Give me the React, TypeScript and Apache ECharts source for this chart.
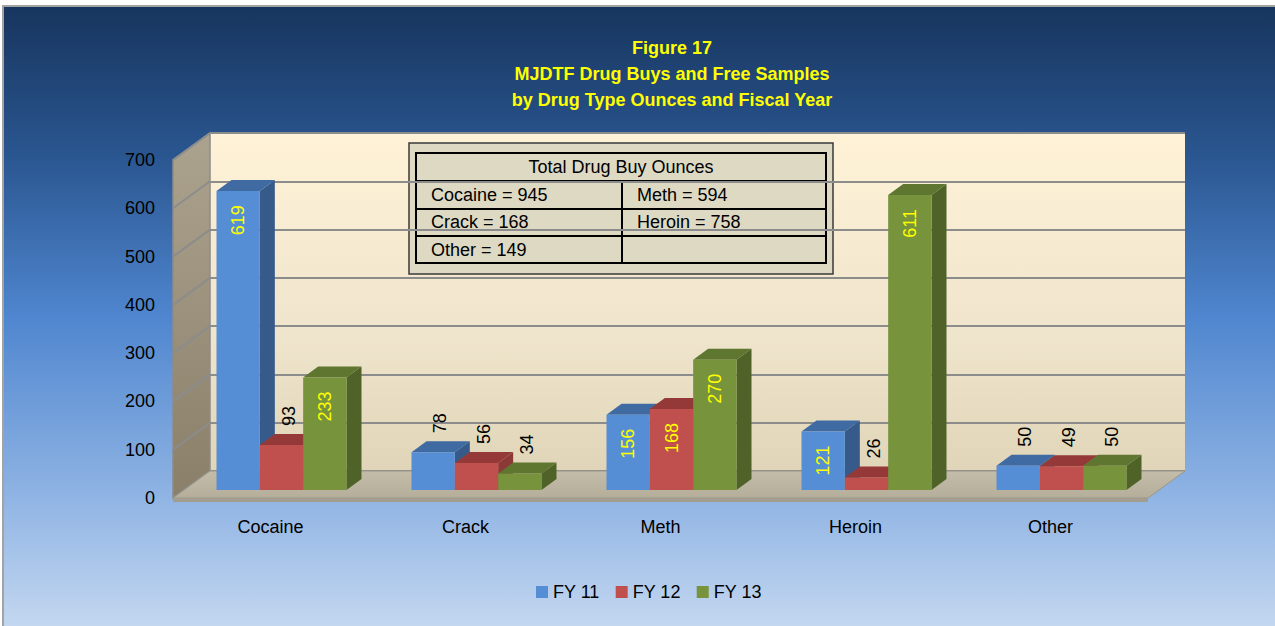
import React, { useEffect, useRef } from "react";
import * as echarts from "echarts";

const categories = ["Cocaine", "Crack", "Meth", "Heroin", "Other"];
const seriesNames = ["FY 11", "FY 12", "FY 13"];
const fy11 = [619, 78, 156, 121, 50];
const fy12 = [93, 56, 168, 26, 49];
const fy13 = [233, 34, 270, 611, 50];
const yTicks = [0, 100, 200, 300, 400, 500, 600, 700];
const titleLines = ["Figure 17", "MJDTF Drug Buys and Free Samples", "by Drug Type Ounces and Fiscal Year"];
const tableTitle = "Total Drug Buy Ounces";
const tableRows = [
  ["Cocaine = 945", "Meth = 594"],
  ["Crack = 168", "Heroin = 758"],
  ["Other = 149", ""],
];

const FONT = '"Liberation Sans", Arial, sans-serif';
const faceColors = [
  { front: "#558ed5", top: "#3f6aa2", side: "#365b8b" },
  { front: "#c0504d", top: "#953938", side: "#8c3836" },
  { front: "#77933c", top: "#5f7630", side: "#4f6228" },
];
const WALL_DX = -37;
const WALL_DY = 27;
const BAR_DX = 15;
const BAR_DY = -11;

export default function App() {
  const ref = useRef<HTMLDivElement>(null);
  useEffect(() => {
    if (!ref.current) return;
    const chart = echarts.init(ref.current, null, { renderer: "svg" });
    const values = [fy11, fy12, fy13];

    const barSeries = seriesNames.map((name, s) => ({
      type: "custom",
      name,
      xAxisIndex: 1,
      yAxisIndex: 1,
      clip: false,
      itemStyle: { color: faceColors[s].front },
      encode: { x: 0, y: 1 },
      data: categories.map((_, i) => [i, values[s][i]]),
      renderItem: (params: any, api: any) => {
        const idx = api.value(0);
        const val = api.value(1);
        const base = api.coord([idx, 0]);
        const top = api.coord([idx, val]);
        const band = api.size([1, 0])[0];
        const bw = band / 1.5 / 3;
        const x0 = base[0] - 1.5 * bw + s * bw;
        const x1 = x0 + bw;
        const yT = top[1];
        const yB = base[1];
        const c = faceColors[s];
        const inside = val >= 100;
        const label = inside
          ? {
              type: "text",
              x: x0 + bw / 2,
              y: yT + 14,
              rotation: Math.PI / 2,
              z2: 10,
              style: {
                text: String(val),
                fill: "#ffff00",
                fontSize: 18,
                fontFamily: FONT,
                align: "right",
                verticalAlign: "middle",
              },
            }
          : {
              type: "text",
              x: x0 + bw / 2 + 7,
              y: yT - 19,
              rotation: Math.PI / 2,
              z2: 10,
              style: {
                text: String(val),
                fill: "#000000",
                fontSize: 18,
                fontFamily: FONT,
                align: "left",
                verticalAlign: "middle",
              },
            };
        return {
          type: "group",
          children: [
            {
              type: "polygon",
              shape: { points: [[x1, yT], [x1 + BAR_DX, yT + BAR_DY], [x1 + BAR_DX, yB + BAR_DY], [x1, yB]] },
              style: { fill: c.side },
            },
            {
              type: "polygon",
              shape: { points: [[x0, yT], [x0 + BAR_DX, yT + BAR_DY], [x1 + BAR_DX, yT + BAR_DY], [x1, yT]] },
              style: { fill: c.top },
            },
            {
              type: "rect",
              shape: { x: x0, y: yT, width: bw, height: yB - yT },
              style: { fill: c.front },
            },
            label,
          ],
        };
      },
    }));

    const wallSeries = {
      type: "custom",
      name: "walls",
      xAxisIndex: 2,
      yAxisIndex: 2,
      clip: false,
      silent: true,
      data: [[0, 0]],
      renderItem: (params: any, api: any) => {
        const bl = api.coord([0, 0]);
        const tl = api.coord([0, 700]);
        const br = api.coord([1, 0]);
        const children: any[] = [];
        children.push({
          type: "polygon",
          shape: { points: [tl, [tl[0] + WALL_DX, tl[1] + WALL_DY], [bl[0] + WALL_DX, bl[1] + WALL_DY], bl] },
          style: {
            fill: new echarts.graphic.LinearGradient(0, 0, 0, 1, [
              { offset: 0, color: "#aca38f" },
              { offset: 1, color: "#8a7f69" },
            ]),
            stroke: "#8c8c8c",
            lineWidth: 1.5,
          },
        });
        yTicks.forEach((t) => {
          const p = api.coord([0, t]);
          children.push({
            type: "line",
            shape: { x1: p[0], y1: p[1], x2: p[0] + WALL_DX, y2: p[1] + WALL_DY },
            style: { stroke: "#8c8c8c", lineWidth: 2 },
          });
        });
        children.push({
          type: "polygon",
          shape: { points: [bl, br, [br[0] + WALL_DX, br[1] + WALL_DY], [bl[0] + WALL_DX, bl[1] + WALL_DY]] },
          style: {
            fill: new echarts.graphic.LinearGradient(0, 0, 0, 1, [
              { offset: 0, color: "#c3bca9" },
              { offset: 1, color: "#b5ae9b" },
            ]),
            stroke: "#9a9688",
            lineWidth: 1,
          },
        });
        children.push({
          type: "rect",
          shape: { x: bl[0] + WALL_DX, y: bl[1] + WALL_DY, width: br[0] - bl[0], height: 4 },
          style: { fill: "#a29d8e" },
        });
        return { type: "group", children };
      },
    };

    const tX = 409, tY = 143;
    const table: any[] = [
      { type: "rect", shape: { x: tX, y: tY, width: 424, height: 131 }, style: { fill: "#ddd9c3", stroke: "#3a3a3a", lineWidth: 1.5 } },
      { type: "rect", shape: { x: 416, y: 153, width: 410, height: 110 }, style: { fill: "#ddd9c3", stroke: "#000", lineWidth: 2 } },
      { type: "line", shape: { x1: 416, y1: 181, x2: 826, y2: 181 }, style: { stroke: "#000", lineWidth: 2 } },
      { type: "line", shape: { x1: 416, y1: 209, x2: 826, y2: 209 }, style: { stroke: "#000", lineWidth: 2 } },
      { type: "line", shape: { x1: 416, y1: 236, x2: 826, y2: 236 }, style: { stroke: "#000", lineWidth: 2 } },
      { type: "line", shape: { x1: 622, y1: 181, x2: 622, y2: 263 }, style: { stroke: "#000", lineWidth: 2 } },
      {
        type: "text",
        x: 621,
        y: 167,
        style: { text: tableTitle, fill: "#000", font: `18px ${FONT}`, textAlign: "center", textVerticalAlign: "middle", align: "center", verticalAlign: "middle" },
      },
    ];
    const rowY = [195, 222, 250];
    tableRows.forEach((row, r) => {
      row.forEach((cell, ci) => {
        if (!cell) return;
        table.push({
          type: "text",
          x: ci === 0 ? 431 : 637,
          y: rowY[r],
          style: { text: cell, fill: "#000", font: `18px ${FONT}`, textAlign: "left", textVerticalAlign: "middle", align: "left", verticalAlign: "middle" },
        });
      });
    });

    const option: any = {
      animation: false,
      backgroundColor: "transparent",
      textStyle: { fontFamily: FONT },
      grid: [
        { left: 173, right: 127, top: 160, bottom: 128 },
        { left: 184, right: 116, top: 152, bottom: 136 },
        {
          left: 210,
          right: 90,
          top: 133,
          bottom: 155,
          show: true,
          borderWidth: 0,
          backgroundColor: new echarts.graphic.LinearGradient(0, 0, 0, 1, [
            { offset: 0, color: "#fff2d7" },
            { offset: 0.6, color: "#efe5cc" },
            { offset: 1, color: "#e0d5b8" },
          ]),
        },
      ],
      xAxis: [
        {
          gridIndex: 0,
          type: "category",
          data: categories,
          axisLine: { show: false },
          axisTick: { show: false },
          axisLabel: { margin: 20, fontSize: 18, color: "#000", fontFamily: FONT },
        },
        { gridIndex: 1, type: "category", data: categories, show: false },
        { gridIndex: 2, type: "value", min: 0, max: 1, show: false },
      ],
      yAxis: [
        {
          gridIndex: 0,
          type: "value",
          min: 0,
          max: 700,
          interval: 100,
          axisLine: { show: false },
          axisTick: { show: false },
          splitLine: { show: false },
          axisLabel: { margin: 18, fontSize: 18, color: "#000", fontFamily: FONT },
        },
        { gridIndex: 1, type: "value", min: 0, max: 700, interval: 100, show: false },
        {
          gridIndex: 2,
          type: "value",
          min: 0,
          max: 700,
          interval: 100,
          axisLine: { show: false },
          axisTick: { show: false },
          axisLabel: { show: false },
          splitLine: { show: true, lineStyle: { color: "#8c8c8c", width: 2 } },
        },
      ],
      legend: {
        data: seriesNames,
        left: 531,
        top: 578,
        icon: "rect",
        itemWidth: 12,
        itemHeight: 12,
        itemGap: 16,
        textStyle: { fontSize: 18, color: "#000", fontFamily: FONT },
      },
      graphic: [
        {
          type: "text",
          x: 672,
          y: 35,
          style: {
            text: titleLines.join("\n"),
            fill: "#ffff00",
            font: `bold 18px ${FONT}`,
            lineHeight: 26,
            textAlign: "center",
            textVerticalAlign: "top",
            align: "center",
            verticalAlign: "top",
          },
        },
        { type: "group", children: table },
      ],
      series: [wallSeries, ...barSeries],
    };
    chart.setOption(option);
    return () => chart.dispose();
  }, []);

  return (
    <div style={{ position: "absolute", left: 0, top: 0, width: 1275, height: 626, background: "#ffffff", overflow: "hidden" }}>
      <div
        style={{
          position: "absolute",
          left: 2,
          top: 5,
          width: 1273,
          height: 621,
          boxSizing: "border-box",
          borderTop: "2px solid #a3a3a3",
          borderLeft: "2px solid #a3a3a3",
          background: "linear-gradient(to bottom, #17355e 0%, #2a5690 24%, #4f86cf 50%, #8db2e3 78%, #c3d7f0 100%)",
        }}
      />
      <div ref={ref} style={{ position: "absolute", left: 0, top: 0, width: 1275, height: 626 }} />
    </div>
  );
}
